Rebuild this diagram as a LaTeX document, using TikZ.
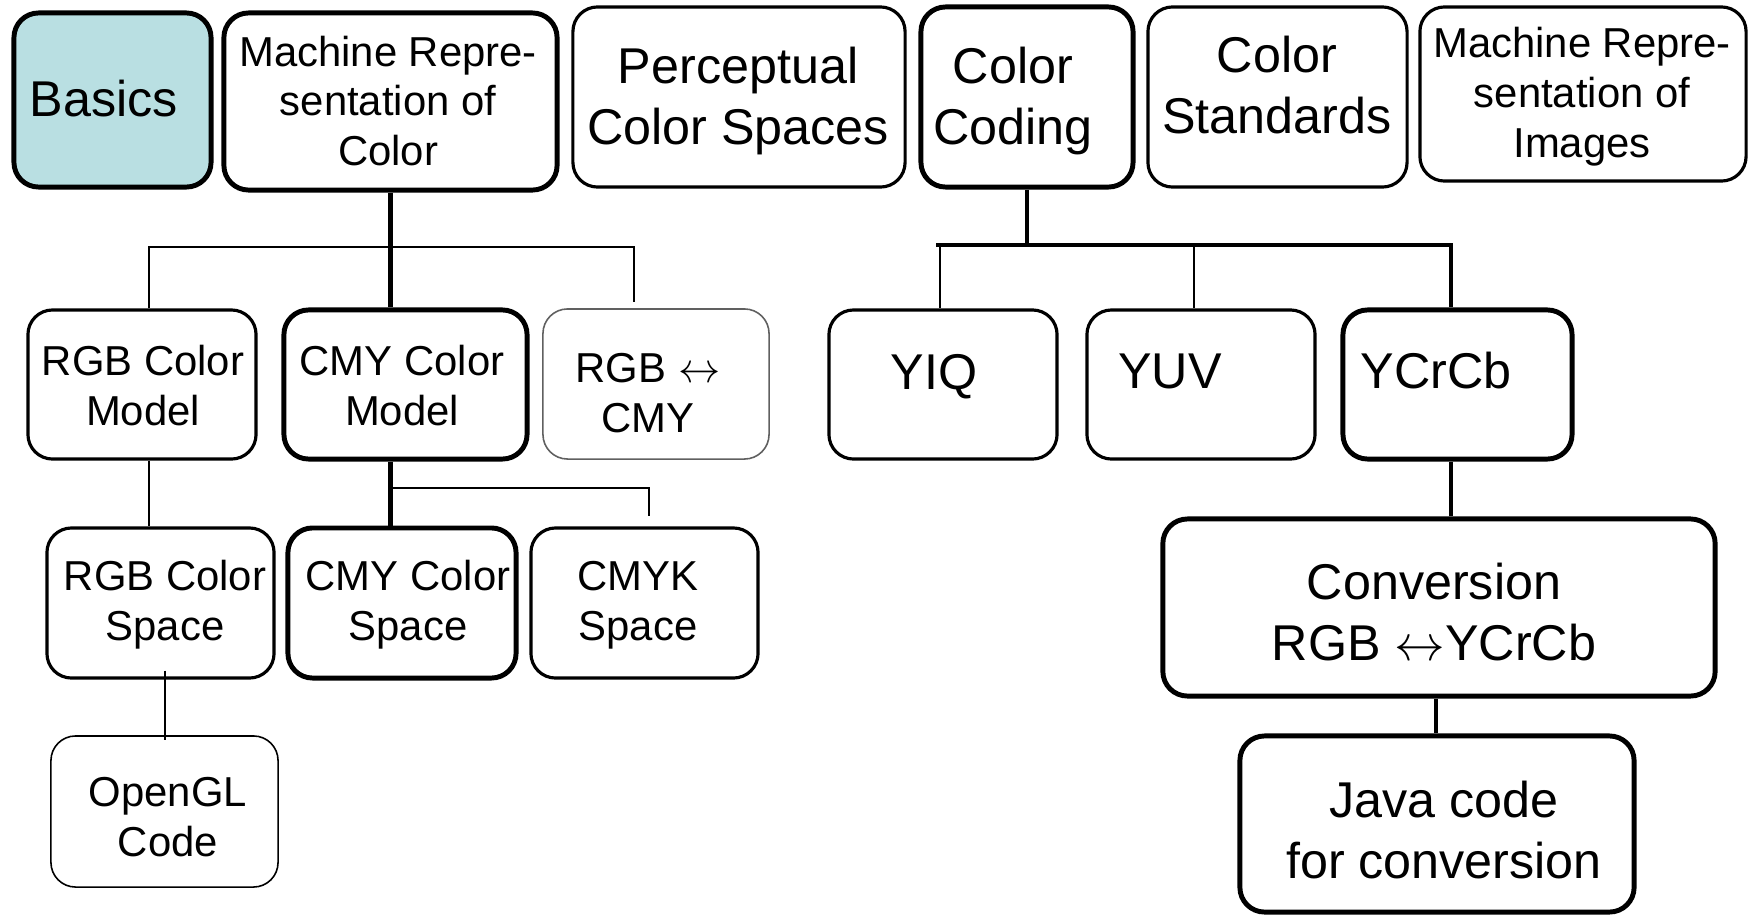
\documentclass[tikz,border=0pt]{standalone}
\usepackage{fontspec}
\setmainfont{Liberation Sans}
\usetikzlibrary{calc}
\definecolor{basicfill}{HTML}{B9DFE2}
\definecolor{thingray}{HTML}{606060}
\newcommand{\lrarr}{\ensuremath{\leftrightarrow}}
\tikzset{
  box/.style={draw, rounded corners=7pt, inner sep=0pt, fill=white},
  bthick/.style={box, line width=1.4pt},
  bnorm/.style={box, line width=0.9pt},
  bthin/.style={box, line width=0.45pt},
  big/.style={font=\fontsize{14.3}{17.4}\selectfont, align=center, inner sep=0pt},
  small/.style={font=\fontsize{11.9}{14.2}\selectfont, align=center, inner sep=0pt},
  cthick/.style={line width=1.4pt},
  cthin/.style={line width=0.45pt},
}
\begin{document}
\begin{tikzpicture}[x=0.01cm,y=-0.01cm]
\useasboundingbox (0,0) rectangle (1748,915);
% top row
\node[bthick, fill=basicfill, minimum width=1.97cm, minimum height=1.74cm] (basics) at (112.5,100) {};
\node[bthick, minimum width=3.33cm, minimum height=1.77cm] (mrc) at (390.5,101.5) {};
\node[bnorm, minimum width=3.32cm, minimum height=1.80cm] (perc) at (739,97) {};
\node[bthick, minimum width=2.12cm, minimum height=1.80cm] (cc) at (1027,97) {};
\node[bnorm, minimum width=2.59cm, minimum height=1.80cm] (cs) at (1277.5,97) {};
\node[bnorm, minimum width=3.26cm, minimum height=1.74cm] (mri) at (1583,94) {};
% second row
\node[bnorm, minimum width=2.28cm, minimum height=1.49cm] (rgbm) at (142,384.5) {};
\node[bthick, minimum width=2.43cm, minimum height=1.49cm] (cmym) at (405.5,384.5) {};
\node[bthin, draw=thingray, minimum width=2.26cm, minimum height=1.50cm] (rc) at (656,384) {};
\node[bnorm, minimum width=2.28cm, minimum height=1.49cm] (yiq) at (943,384.5) {};
\node[bnorm, minimum width=2.28cm, minimum height=1.49cm] (yuv) at (1201,384.5) {};
\node[bthick, minimum width=2.29cm, minimum height=1.49cm] (ycc) at (1457.5,384.5) {};
% third row
\node[bnorm, minimum width=2.27cm, minimum height=1.50cm] (rgbs) at (160.5,603) {};
\node[bthick, minimum width=2.28cm, minimum height=1.50cm] (cmys) at (402,603) {};
\node[bnorm, minimum width=2.27cm, minimum height=1.50cm] (cmyk) at (644.5,603) {};
\node[bthick, minimum width=5.52cm, minimum height=1.77cm] (conv) at (1439,607.5) {};
% fourth row
\node[bthin, minimum width=2.27cm, minimum height=1.51cm] (ogl) at (164.5,811.5) {};
\node[bthick, minimum width=3.94cm, minimum height=1.76cm] (java) at (1437,824) {};

% texts
\node[big] (tbasics) at (104,99) {Basics};
\node[small] (tmrc) at (388,101) {Machine Repre-\\sentation of\\Color};
\node[big] (tperc) at (738,101) {Perceptual\\Color Spaces};
\node[big] (tcc) at (1013,101) {Color\\Coding};
\node[big] (tcs) at (1277,85) {Color\\Standards};
\node[small] (tmri) at (1582,97) {Machine Repre-\\sentation of\\Images};
\node[small] (trgbm) at (143,386) {RGB Color\\Model};
\node[small] (tcmym) at (402,386) {CMY Color\\Model};
\node[small] (trc) at (648,393) {RGB \lrarr\\CMY};
\node[big] (tyiq) at (934,377) {YIQ};
\node[big] (tyuv) at (1170,371) {YUV};
\node[big] (tycc) at (1436,371) {YCrCb};
\node[small] (trgbs) at (165,605) {RGB Color\\Space};
\node[small] (tcmys) at (408,605) {CMY Color\\Space};
\node[small] (tcmyk) at (638,605) {CMYK\\Space};
\node[small] (togl) at (168,817) {OpenGL\\Code};
\node[big] (tconv) at (1434,612) {Conversion\\RGB \lrarr{}YCrCb};
\node[big] (tjava) at (1444,830) {Java code\\for conversion};

% connectors, left tree
\coordinate (t1) at (149,247);
\coordinate (t2) at (634,247);
\coordinate (b1) at (391,488);
\coordinate (b2) at (649,488);
\draw[cthick] (mrc.south) -- (mrc.south |- cmym.north);
\draw[cthin] (rgbm.north -| t1) -- (t1) -- (t2) -- ($(t2 |- rc.north)+(0,-6)$);
\draw[cthin] (rgbm.south -| t1) -- (rgbs.north -| t1);
\draw[cthick] (cmym.south -| mrc.south) -- (cmys.north -| mrc.south);
\draw[cthin] (b1) -- (b2) -- ($(b2 |- cmyk.north)+(0,-10)$);
\draw[cthin] ($(rgbs.south)+(4.5,-9)$) -- ($(ogl.north)+(0.5,5)$);

% connectors, right tree
\coordinate (c1) at (936,245);
\coordinate (c2) at (1451,245);
\coordinate (cy) at (940,245);
\coordinate (cu) at (1194,245);
\coordinate (cv) at (1436,600);
\draw[cthick] (cc.south) -- (cc.south |- c1);
\draw[cthick] (c1) -- (c2) -- (c2 |- ycc.north);
\draw[cthin] (cy) -- (cy |- yiq.north);
\draw[cthin] (cu) -- (cu |- yuv.north);
\draw[cthick] (ycc.south -| c2) -- (conv.north -| c2);
\draw[cthick] (conv.south -| cv) -- (java.north -| cv);
\end{tikzpicture}
\end{document}
